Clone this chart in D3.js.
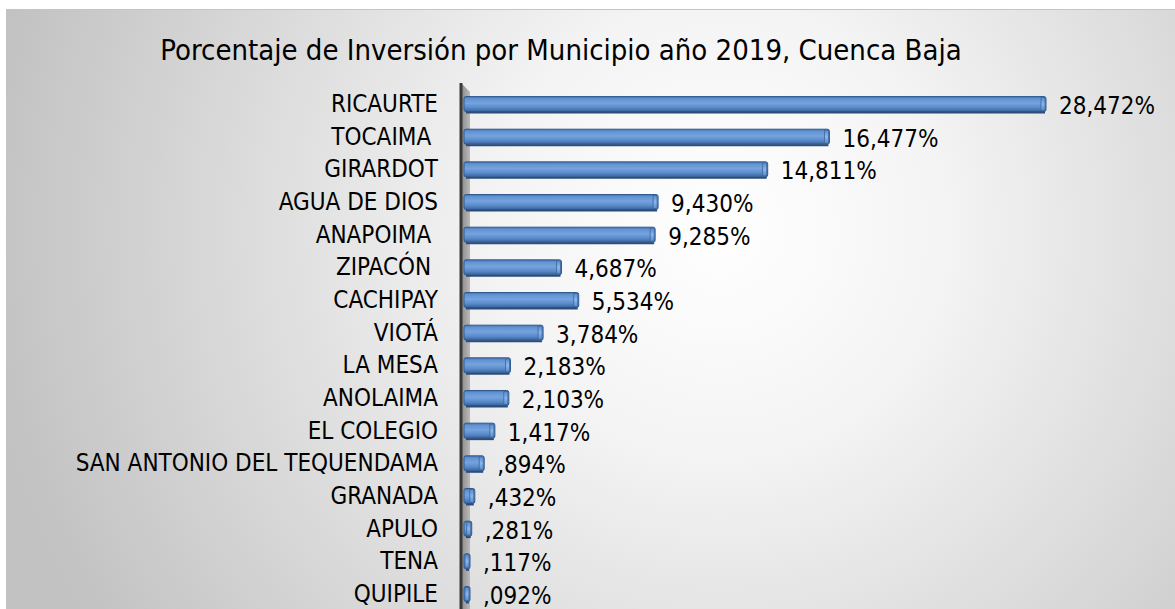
<!DOCTYPE html>
<html>
<head>
<meta charset="utf-8">
<script src="https://cdn.jsdelivr.net/npm/d3@7"></script>
<style>
  html, body { margin: 0; padding: 0; background: #fff; }
  svg { display: block; }
</style>
</head>
<body>
<div id="chart"></div>
<script>
let svgWidth = 1175;
let svgHeight = 609;

// municipalities, top to bottom
let categories = ["RICAURTE", "TOCAIMA ", "GIRARDOT", "AGUA DE DIOS", "ANAPOIMA ", "ZIPACÓN ",
    "CACHIPAY", "VIOTÁ", "LA MESA", "ANOLAIMA", "EL COLEGIO", "SAN ANTONIO DEL TEQUENDAMA",
    "GRANADA", "APULO", "TENA", "QUIPILE"];
// bar lengths as drawn in the picture (percent)
let barValues = [28.472, 17.84, 14.811, 9.430, 9.285, 4.687, 5.534, 3.784, 2.183, 2.103,
    1.417, 0.894, 0.432, 0.281, 0.117, 0.092];
// data labels as printed
let valueLabels = ["28,472%", "16,477%", "14,811%", "9,430%", "9,285%", "4,687%", "5,534%",
    "3,784%", "2,183%", "2,103%", "1,417%", ",894%", ",432%", ",281%", ",117%", ",092%"];
let title = "Porcentaje de Inversión por Municipio año 2019, Cuenca Baja";

let font = "'DejaVu Sans Condensed', 'DejaVu Sans', sans-serif";

let svg = d3.select("#chart").append("svg")
    .attr("width", svgWidth)
    .attr("height", svgHeight);

let defs = svg.append("defs");

// chart area background
let bg = defs.append("radialGradient").attr("id", "bgGrad")
    .attr("gradientUnits", "userSpaceOnUse")
    .attr("cx", 720).attr("cy", 230).attr("r", 740);
bg.append("stop").attr("offset", "0%").attr("stop-color", "#ffffff");
bg.append("stop").attr("offset", "30%").attr("stop-color", "#f4f4f4");
bg.append("stop").attr("offset", "100%").attr("stop-color", "#c2c2c2");

let barGrad = defs.append("linearGradient").attr("id", "barGrad")
    .attr("x1", 0).attr("y1", 0).attr("x2", 0).attr("y2", 1);
[["0%", "#4272b0"], ["15%", "#6393d2"], ["45%", "#74a3de"], ["75%", "#5989c8"], ["100%", "#38639d"]]
    .forEach(function (s) { barGrad.append("stop").attr("offset", s[0]).attr("stop-color", s[1]); });

let capGrad = defs.append("linearGradient").attr("id", "capGrad")
    .attr("x1", 0).attr("y1", 0).attr("x2", 0).attr("y2", 1);
[["0%", "#5b8bc7"], ["50%", "#8cb6ec"], ["100%", "#5b8bc7"]]
    .forEach(function (s) { capGrad.append("stop").attr("offset", s[0]).attr("stop-color", s[1]); });

let wallGrad = defs.append("linearGradient").attr("id", "wallGrad")
    .attr("x1", 0).attr("y1", 0).attr("x2", 1).attr("y2", 0);
wallGrad.append("stop").attr("offset", "0%").attr("stop-color", "#8f8f8f");
wallGrad.append("stop").attr("offset", "100%").attr("stop-color", "#bababa");

svg.append("rect")
    .attr("x", 0).attr("y", 0).attr("width", svgWidth).attr("height", svgHeight)
    .attr("fill", "#ffffff");
svg.append("rect")
    .attr("x", 6).attr("y", 10).attr("width", svgWidth - 6).attr("height", svgHeight - 10)
    .attr("fill", "url(#bgGrad)");
svg.append("line")
    .attr("x1", 6).attr("x2", svgWidth).attr("y1", 9.5).attr("y2", 9.5)
    .attr("stroke", "#c4c4c4").attr("stroke-width", 1);

svg.append("text")
    .attr("x", 561).attr("y", 60)
    .attr("text-anchor", "middle")
    .style("font-family", font)
    .style("font-size", "29px")
    .attr("fill", "#000")
    .text(title);

let y = d3.scaleBand()
    .domain(categories)
    .range([87.7, 610.3])
    .padding(0);

let x = d3.scaleLinear()
    .domain([0, 28.472])
    .range([466, 1046]);

// 3D wall behind bars
svg.append("path")
    .attr("d", "M462,84 L470,92 L470," + svgHeight + " L462," + svgHeight + " Z")
    .attr("fill", "url(#wallGrad)");
svg.append("line")
    .attr("x1", 461).attr("x2", 461).attr("y1", 83).attr("y2", svgHeight)
    .attr("stroke", "#3a3a3a").attr("stroke-width", 3);

let bh = 15;
let rows = svg.append("g").selectAll("g")
    .data(categories)
    .join("g")
    .attr("transform", function (d) { return "translate(0," + (y(d) + y.bandwidth() / 2) + ")"; });

function barEnd(i) { return Math.max(470, x(barValues[i])); }

rows.append("rect")
    .attr("x", 464)
    .attr("y", -bh / 2)
    .attr("width", function (d, i) { return barEnd(i) - 464; })
    .attr("height", bh)
    .attr("rx", 2)
    .attr("fill", "url(#barGrad)")
    .attr("stroke", "#2f5a90")
    .attr("stroke-width", 1);

// bottom shadow edge
rows.append("line")
    .attr("x1", 466)
    .attr("x2", function (d, i) { return barEnd(i) - 1; })
    .attr("y1", bh / 2 + 1).attr("y2", bh / 2 + 1)
    .attr("stroke", "#2a4d7c").attr("stroke-width", 2);

// end cap
rows.append("rect")
    .attr("x", function (d, i) { return barEnd(i) - 5; })
    .attr("y", -bh / 2 + 1)
    .attr("width", 4)
    .attr("height", bh - 2)
    .attr("fill", "url(#capGrad)")
    .attr("stroke", "#3d679e")
    .attr("stroke-width", 0.8);

rows.append("text")
    .attr("x", function (d, i) { return barEnd(i) + 13; })
    .attr("y", 3)
    .attr("dominant-baseline", "middle")
    .style("font-family", font)
    .style("font-size", "24px")
    .attr("fill", "#000")
    .text(function (d, i) { return valueLabels[i]; });

rows.append("text")
    .attr("x", 438)
    .attr("y", 1)
    .attr("text-anchor", "end")
    .attr("dominant-baseline", "middle")
    .attr("xml:space", "preserve")
    .style("white-space", "pre")
    .style("font-family", font)
    .style("font-size", "24px")
    .attr("fill", "#000")
    .text(function (d) { return d; });
</script>
</body>
</html>
